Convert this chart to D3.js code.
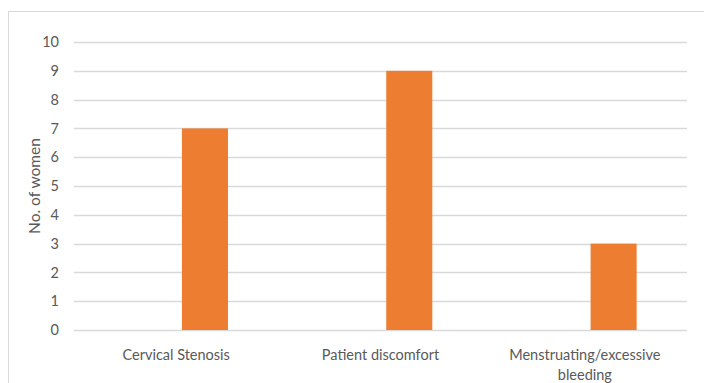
<!DOCTYPE html>
<html>
<head>
<meta charset="utf-8">
<script src="https://cdn.jsdelivr.net/npm/d3@7"></script>
<style>
  body { margin: 0; background: #fff; }
  text { font-family: Lato, "Open Sans", sans-serif; fill: #595959; }
</style>
</head>
<body>
<div id="chart"></div>
<script>
// chart data
const categories = ["Cervical Stenosis", "Patient discomfort", "Menstruating/excessive bleeding"];
const series = ["", "No. of women"];  // first series is empty in the original
const women = [7, 9, 3];
const yTicks = [0, 1, 2, 3, 4, 5, 6, 7, 8, 9, 10];

const width = 704, height = 383;
const margin = { left: 74, right: 17, top: 42, bottom: 53 };

const svg = d3.select('#chart')
    .append('svg')
    .attr('width', width)
    .attr('height', height);

// outer frame (cut off at right/bottom like the source)
svg.append('rect')
    .attr('x', 8.5).attr('y', 11.5)
    .attr('width', width + 20).attr('height', height + 20)
    .style('fill', 'none')
    .style('stroke', '#d9d9d9');

const x0 = d3.scaleBand()
    .domain(categories)
    .range([margin.left, width - margin.right]);

const x1 = d3.scaleBand()
    .domain(series)
    .range([0, x0.bandwidth()])
    .paddingInner(0.2)
    .paddingOuter(0.875);

const y = d3.scaleLinear()
    .domain([0, 10])
    .range([height - margin.bottom, margin.top]);

// gridlines
svg.append('g')
    .selectAll('line')
    .data(yTicks)
    .enter()
    .append('line')
    .attr('x1', margin.left)
    .attr('x2', width - margin.right)
    .attr('y1', d => Math.round(y(d)) + 0.5)
    .attr('y2', d => Math.round(y(d)) + 0.5)
    .style('stroke', '#d9d9d9')
    .style('stroke-width', 1.3);

// y tick labels
svg.append('g')
    .selectAll('text')
    .data(yTicks)
    .enter()
    .append('text')
    .attr('x', 59)
    .attr('y', d => y(d))
    .attr('dy', '0.36em')
    .attr('text-anchor', 'end')
    .style('font-size', '14.5px')
    .text(d => d);

// bars
svg.append('g')
    .selectAll('rect')
    .data(women)
    .enter()
    .append('rect')
    .attr('x', (d, i) => x0(categories[i]) + x1(series[1]))
    .attr('width', x1.bandwidth())
    .attr('y', d => y(d))
    .attr('height', d => y(0) - y(d))
    .style('fill', '#ed7d31');

// category labels, wrapped like the source
const wrapped = {
    "Menstruating/excessive bleeding": ["Menstruating/excessive", "bleeding"]
};
const cat = svg.append('g')
    .selectAll('text')
    .data(categories)
    .enter()
    .append('text')
    .attr('text-anchor', 'middle')
    .style('font-size', '14.5px')
    .attr('transform', d => 'translate(' + (x0(d) + x0.bandwidth() / 2) + ',360)');
cat.selectAll('tspan')
    .data(d => wrapped[d] || [d])
    .enter()
    .append('tspan')
    .attr('x', 0)
    .attr('dy', (d, i) => i === 0 ? 0 : 20)
    .text(d => d);

// y axis title
svg.append('text')
    .attr('transform', 'translate(40,' + (y(5)) + ')rotate(-90)')
    .attr('text-anchor', 'middle')
    .style('font-size', '15.5px')
    .text(series[1]);
</script>
</body>
</html>
